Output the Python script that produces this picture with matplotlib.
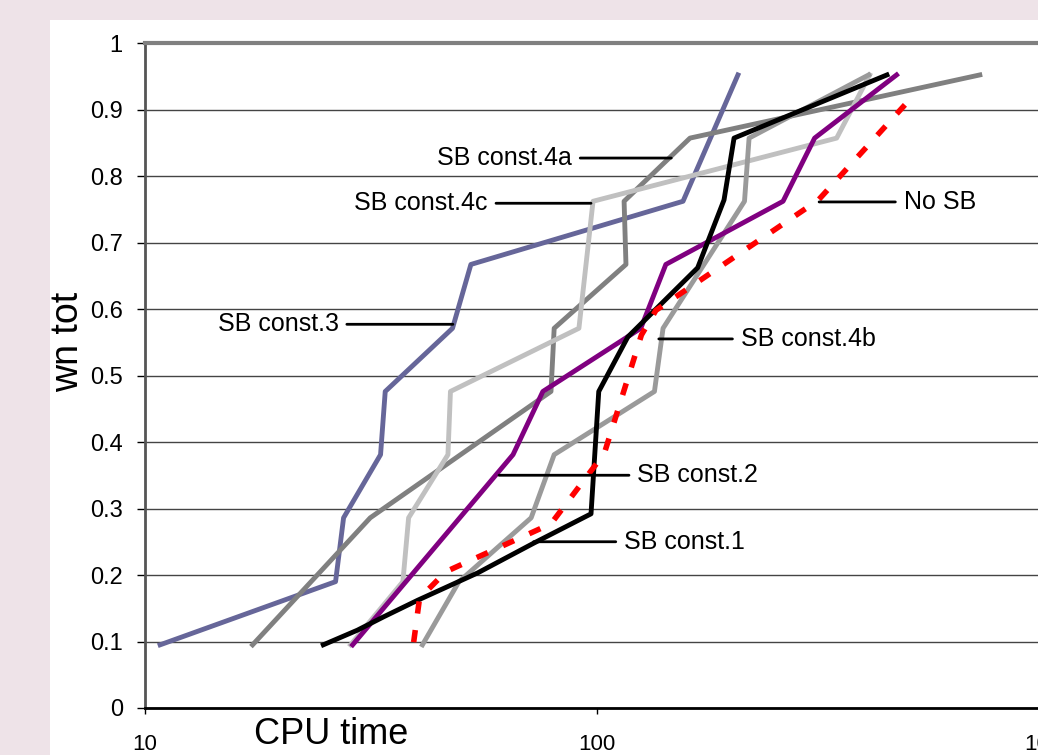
import matplotlib
matplotlib.use("Agg")
import matplotlib.pyplot as plt
from matplotlib.patches import Rectangle

plt.rcParams['font.family'] = ['Liberation Sans', 'DejaVu Sans']

# data (CPU time, share of instances solved)
const3_x = [10.8, 26.4, 27.5, 33.2, 34.0, 47.9, 52.6, 155, 205]
const3_y = [0.095, 0.19, 0.286, 0.381, 0.476, 0.571, 0.667, 0.762, 0.952]

const4a_x = [17.3, 31.5, 79.1, 80.4, 115.9, 114.8, 160.6, 703]
const4a_y = [0.095, 0.286, 0.476, 0.571, 0.667, 0.762, 0.857, 0.952]

const4c_x = [28.5, 37.2, 38.3, 46.8, 47.4, 91.2, 98.0, 339, 401]
const4c_y = [0.095, 0.19, 0.286, 0.381, 0.476, 0.571, 0.762, 0.857, 0.952]

const4b_x = [41.1, 49.5, 71.5, 80.4, 134, 140, 212, 217, 399]
const4b_y = [0.095, 0.19, 0.286, 0.381, 0.476, 0.571, 0.762, 0.857, 0.952]

const2_x = [28.8, 65.2, 75.9, 125, 142, 258, 303, 460]
const2_y = [0.095, 0.381, 0.476, 0.571, 0.667, 0.762, 0.857, 0.952]

const1_x = [24.8, 29.5, 33.7, 40.1, 54.4, 72.5, 97.0, 100.9, 117, 167, 191, 201, 438]
const1_y = [0.095, 0.117, 0.137, 0.162, 0.203, 0.248, 0.292, 0.476, 0.558, 0.662, 0.764, 0.857, 0.952]

nosb_x = [39.3, 40.5, 46.3, 79.1, 103.8, 125.4, 135, 309, 480]
nosb_y = [0.099, 0.165, 0.205, 0.277, 0.383, 0.561, 0.598, 0.764, 0.907]

y_ticks = [0, 0.1, 0.2, 0.3, 0.4, 0.5, 0.6, 0.7, 0.8, 0.9, 1]
y_labels = ['0', '0.1', '0.2', '0.3', '0.4', '0.5', '0.6', '0.7', '0.8', '0.9', '1']
x_ticks = [10, 100, 1000]
x_labels = ['10', '100', '1000']

# label text, point on the curve, where the text sits
labels = [
    ('SB const.4a', (146, 0.827), (88, 0.827), 'right'),
    ('SB const.4c', (97.0, 0.759), (57.3, 0.759), 'right'),
    ('SB const.3', (48.0, 0.577), (26.8, 0.577), 'right'),
    ('No SB', (310, 0.761), (477, 0.761), 'left'),
    ('SB const.4b', (137, 0.555), (208, 0.555), 'left'),
    ('SB const.2', (60.7, 0.350), (122.8, 0.350), 'left'),
    ('SB const.1', (72.4, 0.250), (114.8, 0.250), 'left'),
]

W, H = 1038, 755
fig = plt.figure(figsize=(W / 100, H / 100), dpi=100, facecolor='#eee3e8')
fig.patches.append(Rectangle((50 / W, 0), 1, (H - 20) / H, transform=fig.transFigure,
                             facecolor='white', edgecolor='none', zorder=-10))

ax = fig.add_axes([145 / W, (H - 708) / H, 904 / W, 665 / H])
ax.set_zorder(1)
ax.set_facecolor('white')

lw = 3.5
ax.plot(const3_x, const3_y, color='#666699', lw=lw)
ax.plot(const4a_x, const4a_y, color='#808080', lw=lw)
ax.plot(const4c_x, const4c_y, color='#c0c0c0', lw=lw)
ax.plot(const4b_x, const4b_y, color='#9a9a9a', lw=lw)
ax.plot(const2_x, const2_y, color='#800080', lw=lw)
ax.plot(const1_x, const1_y, color='black', lw=lw)
ax.plot(nosb_x, nosb_y, color='red', lw=lw + 0.5, dashes=(2.2, 3.0))

ax.set_xscale('log')
ax.set_xlim(10, 1000)
ax.set_ylim(0, 1)
ax.set_xticks(x_ticks)
ax.set_xticklabels(x_labels)
ax.minorticks_off()
ax.set_yticks(y_ticks)
ax.set_yticklabels(y_labels)
ax.tick_params(axis='y', direction='out', length=6, width=1, pad=10, labelsize=17)
ax.tick_params(axis='x', direction='out', length=4, width=1, pad=15, labelsize=16)

ax.yaxis.grid(True, color='#444444', lw=1)
ax.set_axisbelow(True)
ax.spines['right'].set_visible(False)
ax.spines['top'].set_color('#808080')
ax.spines['top'].set_linewidth(3)
ax.spines['left'].set_color('#555555')
ax.spines['left'].set_linewidth(2)
ax.spines['bottom'].set_color('black')
ax.spines['bottom'].set_linewidth(2)

for text, xy, xytext, ha in labels:
    ax.annotate(text, xy=xy, xytext=xytext, ha=ha, va='center', fontsize=18,
                arrowprops=dict(arrowstyle='-', color='black', lw=2,
                                shrinkA=4, shrinkB=0))

fig.text(331 / W, 1 - 735 / H, 'CPU time', ha='center', va='center', fontsize=26)
fig.text(68 / W, 1 - 342 / H, 'wn tot', ha='center', va='center', fontsize=27, rotation=90)

fig.savefig('out.png', dpi=100, facecolor=fig.get_facecolor())
